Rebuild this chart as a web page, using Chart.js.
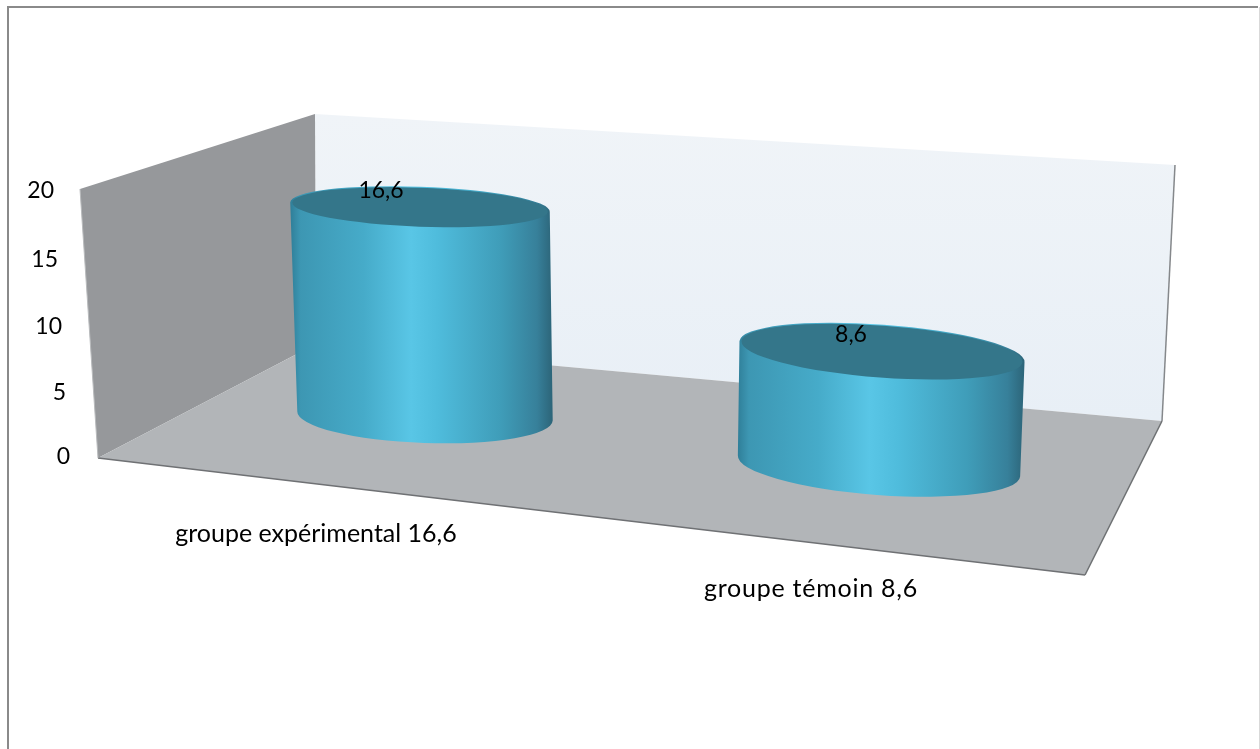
<!DOCTYPE html>
<html>
<head>
<meta charset="utf-8">
<title>groupe expérimental / groupe témoin</title>
<script src="https://cdn.jsdelivr.net/npm/chart.js@4"></script>
<style>
  html, body { margin: 0; padding: 0; background: #fff; overflow: hidden; }
  canvas { display: block; }
</style>
</head>
<body>
<canvas id="cylindres" width="1260" height="749"></canvas>
<script>
const categories = ['groupe expérimental 16,6', 'groupe témoin 8,6'];
const valeurs = [16.6, 8.6];
const valeursTexte = ['16,6', '8,6'];
const yTicks = ['0', '5', '10', '15', '20'];

const FONT = '23px Lato, Carlito, sans-serif';
const FONT_CAT = '25px Lato, Carlito, sans-serif';

// fake 3D: each value is [nearest the left, nearest the right], blended on the bar's x
const persp = {
  baseY: [416, 466], baseDx: [2, -2],
  topDx: [-3, 1], hauteur: [0.946, 1],
  rxBase: [0.93, 1.03], rxTop: [0.945, 1.04],
  ryBase: [27, 29], ryTop: [20.5, 27],
  tilt: [0.036, 0.074],
  labelDx: [-107, -70], labelY: [534, 589], labelSpacing: [0, 0.75],
  valDx: [-39, -31], valDy: [-17, -17]
};

function mix(key, t) {
  return persp[key][0] + (persp[key][1] - persp[key][0]) * t;
}

function poly(ctx, pts, fill) {
  ctx.beginPath();
  pts.forEach((p, i) => i ? ctx.lineTo(p[0], p[1]) : ctx.moveTo(p[0], p[1]));
  ctx.closePath();
  ctx.fillStyle = fill;
  ctx.fill();
}

function line(ctx, a, b, color, w) {
  ctx.beginPath();
  ctx.moveTo(a[0], a[1]);
  ctx.lineTo(b[0], b[1]);
  ctx.strokeStyle = color;
  ctx.lineWidth = w;
  ctx.stroke();
}

// cadre + murs + sol
const decor = {
  id: 'decor',
  beforeDatasetsDraw(chart) {
    const ctx = chart.ctx;
    ctx.save();
    ctx.fillStyle = '#fff';
    ctx.fillRect(0, 0, 1260, 749);
    ctx.strokeStyle = '#8a8a8a';
    ctx.lineWidth = 2;
    ctx.beginPath();
    ctx.moveTo(8, 749);
    ctx.lineTo(8, 7);
    ctx.lineTo(1258, 7);
    ctx.stroke();
    line(ctx, [1259.5, 7], [1259.5, 749], '#d9d9d9', 1);

    const g = ctx.createLinearGradient(0, 114, 0, 420);
    g.addColorStop(0, '#f0f4f8');
    g.addColorStop(1, '#e8eff6');
    poly(ctx, [[315, 114], [1175, 165], [1162, 421], [316, 344]], g);
    poly(ctx, [[80, 189], [315, 114], [316, 344], [98, 458]], '#96989b');
    poly(ctx, [[98, 458], [316, 344], [1162, 421], [1085, 575]], '#b2b5b8');

    line(ctx, [1175, 165], [1162, 421], '#85888b', 1.5);
    line(ctx, [98, 458], [1085, 575], '#6f7174', 1.5);
    line(ctx, [1085, 575], [1162, 421], '#6f7174', 1.5);
    line(ctx, [80, 189], [98, 458], '#b9bbbd', 1);
    ctx.restore();
  },
  beforeDatasetDraw(chart) {
    const ctx = chart.ctx;
    const bars = chart.getDatasetMeta(0).data;
    const x0 = bars[0].x, x1 = bars[bars.length - 1].x;
    ctx.save();
    bars.forEach(bar => {
      const t = (bar.x - x0) / (x1 - x0);
      const rot = mix('tilt', t);
      const bx = bar.x + mix('baseDx', t), by = mix('baseY', t);
      const tx = bar.x + mix('topDx', t);
      const ty = by - (bar.base - bar.y) * mix('hauteur', t);
      const rb = bar.width / 2 * mix('rxBase', t), rt = bar.width / 2 * mix('rxTop', t);
      const ryb = mix('ryBase', t), ryt = mix('ryTop', t);
      const cos = Math.cos(rot), sin = Math.sin(rot);

      const g = ctx.createLinearGradient(Math.min(tx - rt, bx - rb), 0, Math.max(tx + rt, bx + rb), 0);
      g.addColorStop(0, '#2f7e98');
      g.addColorStop(0.04, '#3d97b3');
      g.addColorStop(0.28, '#46abc9');
      g.addColorStop(0.46, '#59c6e6');
      g.addColorStop(0.56, '#4fbcdc');
      g.addColorStop(0.8, '#3f9db9');
      g.addColorStop(0.94, '#37809a');
      g.addColorStop(1, '#2c6478');

      ctx.beginPath();
      ctx.moveTo(tx - rt * cos, ty - rt * sin);
      ctx.lineTo(bx - rb * cos, by - rb * sin);
      ctx.ellipse(bx, by, rb, ryb, rot, Math.PI, 0, true);
      ctx.lineTo(tx + rt * cos, ty + rt * sin);
      ctx.ellipse(tx, ty, rt, ryt, rot, 0, Math.PI, true);
      ctx.closePath();
      ctx.fillStyle = g;
      ctx.fill();

      // dessus du cylindre
      ctx.beginPath();
      ctx.ellipse(tx, ty, rt - 2, ryt - 1, rot, 0, Math.PI * 2);
      ctx.fillStyle = '#34768a';
      ctx.fill();
    });
    ctx.restore();
    return false; // bars are painted above, skip the flat rectangles
  },
  afterDatasetsDraw(chart) {
    const ctx = chart.ctx;
    const y = chart.scales.y;
    const bars = chart.getDatasetMeta(0).data;
    const x0 = bars[0].x, x1 = bars[bars.length - 1].x;
    ctx.save();
    ctx.font = FONT;
    ctx.fillStyle = '#000';
    ctx.textBaseline = 'middle';

    // graduations, the axis leans to the left going up and sags a bit mid-way
    ctx.textAlign = 'right';
    y.ticks.forEach(tk => {
      const py = y.getPixelForValue(tk.value) + tk.value * (20 - tk.value) * 0.03;
      ctx.fillText(String(tk.value), 70 - tk.value * 0.8, py);
    });

    ctx.textAlign = 'center';
    bars.forEach((bar, i) => {
      const t = (bar.x - x0) / (x1 - x0);
      ctx.font = FONT_CAT;
      ctx.letterSpacing = mix('labelSpacing', t) + 'px';
      ctx.fillText(categories[i], bar.x + mix('labelDx', t), mix('labelY', t));
      ctx.letterSpacing = '0px';

      const by = mix('baseY', t);
      const ty = by - (bar.base - bar.y) * mix('hauteur', t);
      ctx.font = FONT;
      ctx.fillText(valeursTexte[i], bar.x + mix('topDx', t) + mix('valDx', t), ty + mix('valDy', t));
    });
    ctx.restore();
  }
};

new Chart(document.getElementById('cylindres'), {
  type: 'bar',
  data: {
    labels: categories,
    datasets: [{
      label: 'Série 1',
      data: valeurs,
      backgroundColor: '#4bb4d3',
      categoryPercentage: 0.6,
      barPercentage: 1
    }]
  },
  options: {
    responsive: false,
    animation: false,
    devicePixelRatio: 1,
    layout: { padding: { left: 194, right: 150, top: 191, bottom: 292 } },
    plugins: { legend: { display: false }, tooltip: { enabled: false } },
    scales: {
      x: {
        grid: { display: false },
        border: { display: false },
        ticks: { display: false },
        afterFit: axis => { axis.height = 0; }
      },
      y: {
        min: 0,
        max: 20,
        afterBuildTicks: axis => { axis.ticks = yTicks.map(v => ({ value: Number(v) })); },
        grid: { display: false },
        border: { display: false },
        ticks: { display: false },
        afterFit: axis => { axis.width = 0; }
      }
    }
  },
  plugins: [decor]
});
</script>
</body>
</html>
